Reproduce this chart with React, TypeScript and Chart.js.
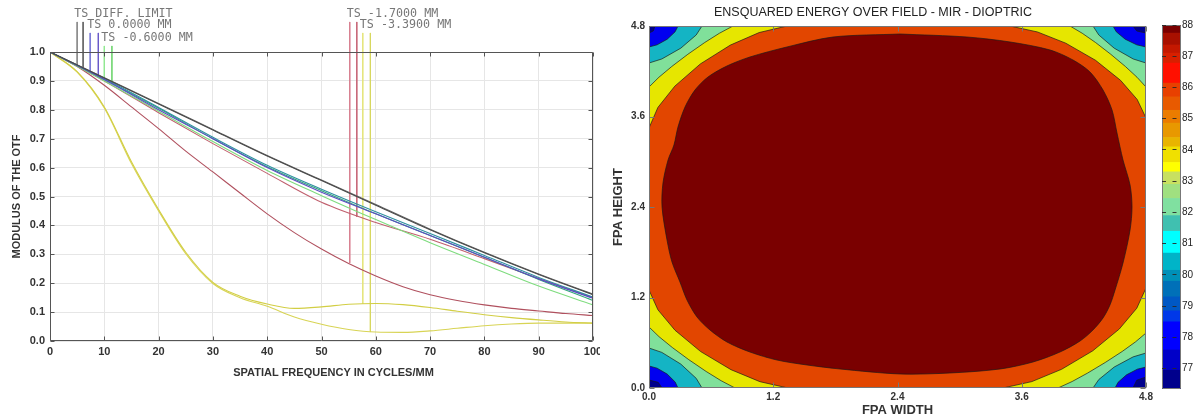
import React, { useEffect, useRef } from 'react';
import { Chart, registerables } from 'chart.js';

Chart.register(...registerables);

const FONT = '"Liberation Sans", Arial, Helvetica, sans-serif';
const MONO = '"DejaVu Sans Mono", "Liberation Mono", monospace';
Chart.defaults.font.family = FONT;

// ---------------- MTF (left) ----------------
const freqCoarse = [0, 10, 20, 30, 40, 50, 60, 70, 80, 90, 100];
const freqFine = [0, 5, 10, 15, 20, 25, 30, 35, 40, 45, 50, 55, 60, 65, 70, 75, 80, 85, 90, 95, 100];

const diffT = [1.0, 0.91, 0.82, 0.73, 0.64, 0.555, 0.47, 0.385, 0.305, 0.23, 0.16];
const diffS = [1.0, 0.911, 0.822, 0.732, 0.642, 0.557, 0.472, 0.387, 0.307, 0.232, 0.162];
const field0T = [1.0, 0.905, 0.8, 0.7, 0.6, 0.515, 0.44, 0.365, 0.29, 0.215, 0.148];
const field0S = [1.0, 0.908, 0.808, 0.705, 0.608, 0.525, 0.447, 0.372, 0.296, 0.22, 0.152];
const field1S = [1.0, 0.905, 0.805, 0.7, 0.603, 0.52, 0.44, 0.365, 0.29, 0.213, 0.14];
const field1T = [1.0, 0.9, 0.795, 0.69, 0.59, 0.503, 0.42, 0.34, 0.265, 0.19, 0.125];
const field2T = [1.0, 0.9, 0.79, 0.683, 0.58, 0.48, 0.41, 0.352, 0.285, 0.216, 0.15];
const field2S = [1.0, 0.95, 0.885, 0.81, 0.735, 0.657, 0.585, 0.512, 0.44, 0.375, 0.318, 0.268, 0.225, 0.188, 0.16, 0.14, 0.125, 0.113, 0.104, 0.095, 0.088];
const field3T = [1.0, 0.932, 0.81, 0.62, 0.455, 0.307, 0.203, 0.155, 0.128, 0.113, 0.118, 0.127, 0.13, 0.126, 0.116, 0.103, 0.091, 0.081, 0.073, 0.066, 0.062];
const field3S = [1.0, 0.93, 0.806, 0.614, 0.45, 0.302, 0.199, 0.15, 0.12, 0.083, 0.058, 0.04, 0.031, 0.03, 0.035, 0.044, 0.053, 0.059, 0.062, 0.062, 0.062];

const mtfXTicks = [0, 10, 20, 30, 40, 50, 60, 70, 80, 90, 100];
const mtfYTicks = [0, 0.1, 0.2, 0.3, 0.4, 0.5, 0.6, 0.7, 0.8, 0.9, 1.0];

const markerLabels = ['TS DIFF. LIMIT', 'TS 0.0000 MM', 'TS -0.6000 MM', 'TS -1.7000 MM', 'TS -3.3900 MM'];
const markerX = [[5.0, 6.1], [7.4, 8.9], [10.0, 11.4], [55.2, 56.5], [57.6, 59.0]];
const markerTop = [1.104, 1.066, 1.021, 1.104, 1.066];
const markerBottom = [[0.955, 0.945], [0.93, 0.918], [0.903, 0.89], [0.27, 0.43], [0.129, 0.031]];
const markerColors = [['#8a8a8a', '#666666'], ['#7a7ad8', '#6a5ac8'], ['#92e892', '#78d878'], ['#d88090', '#c86878'], ['#e4e47c', '#d8d860']];

// ---------------- Ensquared energy (right) ----------------
const fieldTicks = [0, 1.2, 2.4, 3.6, 4.8];

type Pt = [number, number];
const regionFrame: Pt[] = [[-0.3, -0.3], [5.1, -0.3], [5.1, 5.1], [-0.3, 5.1], [-0.3, -0.3]];
const contour78: Pt[] = [[0, 4.707], [0.041, 4.734], [0.058, 4.8], [0.058, 5.1], [4.674, 5.1], [4.674, 4.8], [4.711, 4.734], [4.8, 4.707], [5.1, 4.707], [5.1, 0.146], [4.8, 0.146], [4.711, 0.103], [4.674, 0], [4.674, -0.3], [0.126, -0.3], [0.126, 0], [0.089, 0.075], [0, 0.106], [-0.3, 0.106], [-0.3, 4.707], [0, 4.707]];
const contour80: Pt[] = [[0, 4.522], [0.078, 4.55], [0.176, 4.625], [0.252, 4.723], [0.28, 4.8], [0.28, 5.1], [4.481, 5.1], [4.481, 4.8], [4.513, 4.723], [4.599, 4.625], [4.711, 4.55], [4.8, 4.522], [5.1, 4.522], [5.1, 0.278], [4.8, 0.278], [4.717, 0.25], [4.612, 0.175], [4.531, 0.077], [4.501, 0], [4.501, -0.3], [0.28, -0.3], [0.28, 0], [0.252, 0.081], [0.176, 0.184], [0.078, 0.263], [0, 0.292], [-0.3, 0.292], [-0.3, 4.522], [0, 4.522]];
const contour82: Pt[] = [[0, 4.309], [0.124, 4.363], [0.307, 4.506], [0.456, 4.681], [0.512, 4.8], [0.512, 5.1], [4.288, 5.1], [4.288, 4.8], [4.344, 4.681], [4.493, 4.506], [4.676, 4.363], [4.8, 4.309], [5.1, 4.309], [5.1, 0.464], [4.8, 0.464], [4.676, 0.413], [4.493, 0.278], [4.344, 0.112], [4.288, 0], [4.288, -0.3], [0.512, -0.3], [0.512, 0], [0.456, 0.128], [0.307, 0.317], [0.124, 0.472], [0, 0.53], [-0.3, 0.53], [-0.3, 4.309], [0, 4.309]];
const contour83: Pt[] = [[0, 3.991], [0.096, 4.121], [0.22, 4.263], [0.375, 4.425], [0.538, 4.581], [0.68, 4.704], [0.811, 4.8], [0.811, 5.1], [4.066, 5.1], [4.066, 4.8], [4.184, 4.704], [4.313, 4.581], [4.46, 4.425], [4.601, 4.263], [4.713, 4.121], [4.8, 3.991], [5.1, 3.991], [5.1, 0.729], [4.8, 0.729], [4.699, 0.612], [4.57, 0.484], [4.406, 0.338], [4.236, 0.198], [4.087, 0.086], [3.95, 0], [3.95, -0.3], [0.831, -0.3], [0.831, 0], [0.697, 0.096], [0.552, 0.219], [0.385, 0.375], [0.225, 0.537], [0.098, 0.679], [0, 0.809], [-0.3, 0.809], [-0.3, 3.991], [0, 3.991]];
const contour85: Pt[] = [[0, 3.447], [0.086, 3.72], [0.249, 4.002], [0.496, 4.297], [0.786, 4.547], [1.064, 4.713], [1.333, 4.8], [1.333, 5.1], [3.487, 5.1], [3.487, 4.8], [3.752, 4.721], [4.025, 4.572], [4.312, 4.346], [4.554, 4.08], [4.715, 3.826], [4.8, 3.58], [5.1, 3.58], [5.1, 1.326], [4.8, 1.326], [4.711, 1.058], [4.542, 0.782], [4.286, 0.493], [3.985, 0.248], [3.698, 0.085], [3.419, 0], [3.419, -0.3], [1.342, -0.3], [1.342, 0], [1.071, 0.084], [0.792, 0.243], [0.499, 0.483], [0.251, 0.766], [0.086, 1.037], [0, 1.299], [-0.3, 1.299], [-0.3, 3.447], [0, 3.447]];
const contour87: Pt[] = [[2.424, 4.694], [3.071, 4.654], [3.487, 4.588], [3.873, 4.482], [4.095, 4.349], [4.259, 4.19], [4.385, 3.951], [4.472, 3.686], [4.52, 3.381], [4.578, 3.023], [4.646, 2.692], [4.665, 2.4], [4.646, 2.095], [4.578, 1.658], [4.501, 1.299], [4.452, 1.101], [4.385, 0.928], [4.288, 0.769], [4.163, 0.623], [3.969, 0.477], [3.709, 0.345], [3.39, 0.252], [2.907, 0.199], [2.424, 0.186], [1.845, 0.252], [1.526, 0.305], [1.236, 0.371], [0.975, 0.477], [0.753, 0.61], [0.589, 0.769], [0.464, 0.941], [0.367, 1.167], [0.299, 1.406], [0.222, 1.671], [0.174, 1.962], [0.126, 2.4], [0.135, 2.718], [0.184, 3.023], [0.241, 3.222], [0.28, 3.461], [0.348, 3.726], [0.444, 3.951], [0.57, 4.124], [0.753, 4.27], [0.975, 4.389], [1.333, 4.522], [1.777, 4.654], [2.424, 4.694]];

const regionColors = ['#00008c', '#0000f0', '#14b4c4', '#80e09a', '#e6e600', '#e24600', '#7a0000'];

// ---------------- Colour bar ----------------
const colorbarEdges = [76.35, 76.95, 77.6, 78.5, 78.85, 79.3, 79.8, 80.15, 80.7, 81.4, 81.9, 82.45, 82.9, 83.3, 83.6, 84.1, 84.4, 84.86, 85.27, 85.7, 86.14, 86.78, 87.1, 87.36, 87.74, 88.0];
const colorbarColors = ['#00008c', '#0000c8', '#0000ff', '#0038e8', '#0058c4', '#0070b8', '#0090b8', '#00b4c8', '#00ffff', '#40c0b0', '#80e0a0', '#a0e080', '#c8e060', '#ffff00', '#f0e000', '#e8b400', '#e89800', '#eb7c00', '#e85a00', '#e84000', '#ff1000', '#d82000', '#c41800', '#a81000', '#7a0000'];
const colorbarTicks = [77, 78, 79, 80, 81, 82, 83, 84, 85, 86, 87, 88];

// ---------------- helpers ----------------
function framePlugin(id: string, color: string, len: number, withTicks: boolean) {
  return {
    id,
    afterDatasetsDraw(chart: any) {
      const { ctx, chartArea: a } = chart;
      const L = Math.round(a.left) + 0.5;
      const R = Math.round(a.right) - 0.5;
      const T = Math.round(a.top) + 0.5;
      const B = Math.round(a.bottom) - 0.5;
      ctx.save();
      ctx.strokeStyle = color;
      ctx.lineWidth = 1;
      ctx.beginPath();
      ctx.rect(L, T, R - L, B - T);
      if (withTicks) {
        const xs = chart.scales.x;
        const ys = chart.scales.y;
        xs.ticks.forEach((t: any) => {
          const p = Math.round(xs.getPixelForValue(t.value)) + 0.5;
          ctx.moveTo(p, T); ctx.lineTo(p, T + len);
          ctx.moveTo(p, B); ctx.lineTo(p, B - len);
        });
        ys.ticks.forEach((t: any) => {
          const p = Math.round(ys.getPixelForValue(t.value)) + 0.5;
          ctx.moveTo(L, p); ctx.lineTo(L + len, p);
          ctx.moveTo(R, p); ctx.lineTo(R - len, p);
        });
      }
      ctx.stroke();
      ctx.restore();
    },
  };
}

const noPadX = (h: number) => (s: any) => { s.height = h; s.paddingLeft = 0; s.paddingRight = 0; };
const noPadY = (w: number) => (s: any) => { s.width = w; s.paddingTop = 0; s.paddingBottom = 0; };

const curve = (xs: number[], ys: number[], color: string) => ({
  data: xs.map((x, i) => ({ x, y: ys[i] })),
  borderColor: color,
  borderWidth: 1.1,
  pointRadius: 0,
  fill: false,
  cubicInterpolationMode: 'monotone',
});

const region = (pts: Pt[], color: string, line: boolean, tension = 0) => ({
  data: pts.map(([x, y]) => ({ x, y })),
  backgroundColor: color,
  borderColor: line ? 'rgba(25,25,25,0.85)' : 'rgba(0,0,0,0)',
  borderWidth: line ? 0.8 : 0,
  pointRadius: 0,
  fill: 'shape',
  tension,
});

function mtfConfig(): any {
  const markerSets = markerX.flatMap((xs, g) =>
    xs.map((x, k) => ({
      data: [{ x, y: markerTop[g] }, { x, y: markerBottom[g][k] }],
      borderColor: markerColors[g][k],
      borderWidth: 1,
      pointRadius: 0,
      fill: false,
      clip: false,
    }))
  );
  const labelPlugin = {
    id: 'mtfLabels',
    afterDraw(chart: any) {
      const { ctx, chartArea } = chart;
      const xs = chart.scales.x;
      const ys = chart.scales.y;
      ctx.save();
      ctx.font = `11.7px ${MONO}`;
      ctx.fillStyle = '#777';
      ctx.textBaseline = 'middle';
      ctx.textAlign = 'left';
      markerLabels.forEach((t, g) => {
        ctx.fillText(t, xs.getPixelForValue(markerX[g][0]) - 3, ys.getPixelForValue(markerTop[g]) - 7.5);
      });
      ctx.font = `bold 11px ${FONT}`;
      ctx.fillStyle = '#333';
      ctx.textAlign = 'center';
      ctx.fillText('SPATIAL FREQUENCY IN CYCLES/MM', (chartArea.left + chartArea.right) / 2 + 12, 373);
      ctx.restore();
    },
  };
  // Chart.js paints the first dataset last (on top); diffraction limit first.
  const lines = [
    curve(freqCoarse, diffT, '#4a4a4a'),
    curve(freqCoarse, diffS, '#666666'),
    curve(freqCoarse, field0T, '#5b4bc4'),
    curve(freqCoarse, field0S, '#2e8fa0'),
    curve(freqCoarse, field1S, '#30a878'),
    curve(freqCoarse, field1T, '#7edc7e'),
    curve(freqCoarse, field2T, '#c0606e'),
    curve(freqFine, field2S, '#b0505e'),
    curve(freqFine, field3T, '#d2ce44'),
    curve(freqFine, field3S, '#d8d455'),
  ];
  return {
    type: 'line',
    data: { datasets: [...lines, ...markerSets] },
    options: {
      responsive: false,
      animation: false,
      events: [],
      layout: { padding: { top: 52, right: 7, left: 0, bottom: 0 } },
      plugins: { legend: { display: false }, tooltip: { enabled: false }, title: { display: false } },
      scales: {
        x: {
          type: 'linear', min: 0, max: 100,
          afterBuildTicks: (s: any) => { s.ticks = mtfXTicks.map((v) => ({ value: v })); },
          afterFit: noPadX(79),
          grid: { color: '#e6e6e6', drawTicks: false },
          border: { display: false },
          ticks: { padding: 4, color: '#333', font: { size: 11, weight: 'bold' }, autoSkip: false, maxRotation: 0, callback: (v: any) => String(v) },
        },
        y: {
          type: 'linear', min: 0, max: 1,
          afterBuildTicks: (s: any) => { s.ticks = mtfYTicks.map((v) => ({ value: v })); },
          afterFit: noPadY(50),
          grid: { color: '#e6e6e6', drawTicks: false },
          border: { display: false },
          ticks: { padding: 5, color: '#333', font: { size: 11, weight: 'bold' }, autoSkip: false, callback: (v: any) => Number(v).toFixed(1) },
          title: { display: true, text: 'MODULUS OF THE OTF', color: '#333', font: { size: 11, weight: 'bold' }, padding: { top: 10.4, bottom: 0 } },
        },
      },
    },
    plugins: [framePlugin('mtfFrame', '#555', 4, true), labelPlugin],
  };
}

function fieldConfig(): any {
  // Chart.js paints datasets from last to first, so the innermost level comes first.
  return {
    type: 'line',
    data: {
      datasets: [
        region(contour87, regionColors[6], true, 0.3),
        region(contour85, regionColors[5], true),
        region(contour83, regionColors[4], true),
        region(contour82, regionColors[3], true),
        region(contour80, regionColors[2], true),
        region(contour78, regionColors[1], true),
        region(regionFrame, regionColors[0], false),
      ],
    },
    options: {
      responsive: false,
      animation: false,
      events: [],
      layout: { padding: { top: 0, right: 14, left: 0, bottom: 0 } },
      plugins: {
        legend: { display: false },
        tooltip: { enabled: false },
        title: { display: true, text: 'ENSQUARED ENERGY OVER FIELD - MIR - DIOPTRIC', color: '#222', font: { size: 12.5, weight: 'normal' }, padding: { top: 5, bottom: 6 } },
      },
      scales: {
        x: {
          type: 'linear', min: 0, max: 4.8,
          afterBuildTicks: (s: any) => { s.ticks = fieldTicks.map((v) => ({ value: v })); },
          afterFit: noPadX(32),
          grid: { display: false, drawTicks: false },
          border: { display: false },
          ticks: { padding: 3, color: '#333', font: { size: 10, weight: 'bold' }, autoSkip: false, maxRotation: 0, callback: (v: any) => Number(v).toFixed(1) },
          title: { display: true, text: 'FPA WIDTH', color: '#333', font: { size: 13, weight: 'bold' }, padding: { top: 0, bottom: 2.2 } },
        },
        y: {
          type: 'linear', min: 0, max: 4.8,
          afterBuildTicks: (s: any) => { s.ticks = fieldTicks.map((v) => ({ value: v })); },
          afterFit: noPadY(49),
          grid: { display: false, drawTicks: false },
          border: { display: false },
          ticks: { padding: 4, color: '#333', font: { size: 10, weight: 'bold' }, autoSkip: false, callback: (v: any) => Number(v).toFixed(1) },
          title: { display: true, text: 'FPA HEIGHT', color: '#333', font: { size: 13, weight: 'bold' }, padding: { top: 10.2, bottom: 0 } },
        },
      },
    },
    plugins: [framePlugin('fieldFrame', '#777', 5, true)],
  };
}

function colorbarConfig(): any {
  return {
    type: 'bar',
    data: {
      labels: [''],
      datasets: colorbarColors.map((c, i) => ({
        data: [[colorbarEdges[i], colorbarEdges[i + 1]]],
        backgroundColor: c,
        borderWidth: 0,
        grouped: false,
        barPercentage: 1,
        categoryPercentage: 1,
      })),
    },
    options: {
      responsive: false,
      animation: false,
      events: [],
      layout: { padding: { left: 2, top: 25, bottom: 31, right: 0 } },
      plugins: { legend: { display: false }, tooltip: { enabled: false } },
      scales: {
        x: { display: false },
        y: {
          position: 'right', min: 76.35, max: 88,
          afterBuildTicks: (s: any) => { s.ticks = colorbarTicks.map((v) => ({ value: v })); },
          afterFit: noPadY(14),
          grid: { color: 'rgba(40,40,40,0.9)', drawTicks: false, lineWidth: 1, z: 1 },
          border: { display: false, dash: [4, 6.5] },
          ticks: { padding: 1, color: '#222', font: { size: 10 }, autoSkip: false },
        },
      },
    },
    plugins: [framePlugin('cbFrame', '#777', 0, false)],
  };
}

function ChartCanvas({ left, width, height, build }: { left: number; width: number; height: number; build: () => any }) {
  const ref = useRef<HTMLCanvasElement>(null);
  useEffect(() => {
    const chart = new Chart(ref.current as HTMLCanvasElement, build());
    return () => chart.destroy();
  }, []);
  return (
    <canvas
      ref={ref}
      width={width}
      height={height}
      style={{ position: 'absolute', left, top: 0, width, height, display: 'block' }}
    />
  );
}

export default function App() {
  return (
    <div style={{ position: 'absolute', left: 0, top: 0, width: 1195, height: 420, background: '#ffffff', overflow: 'hidden' }}>
      <ChartCanvas left={0} width={600} height={420} build={mtfConfig} />
      <ChartCanvas left={600} width={560} height={420} build={fieldConfig} />
      <ChartCanvas left={1160} width={35} height={420} build={colorbarConfig} />
    </div>
  );
}
